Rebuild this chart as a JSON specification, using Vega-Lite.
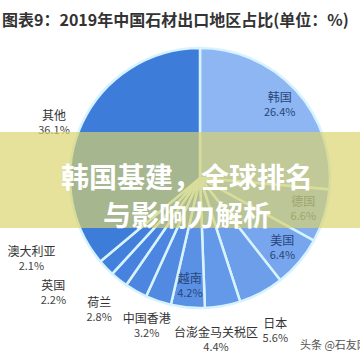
{
  "$schema": "https://vega.github.io/schema/vega-lite/v6.json",
  "width": 320,
  "height": 288,
  "autosize": {"type": "none"},
  "padding": {"left": 40, "top": 34, "right": 0, "bottom": 38},
  "background": "white",
  "config": {"view": {"stroke": null}, "font": "Noto Sans CJK SC"},
  "title": {"text": "图表9：2019年中国石材出口地区占比(单位：%)", "anchor": "start", "frame": "group", "fontSize": 16, "fontWeight": "bold", "color": "#333333", "dx": -38, "offset": -2, "font": "Noto Sans CJK SC"},
  "layer": [
    {
      "data": {"values": [
        {"region": "韩国", "share": 0.264, "n": 1},
        {"region": "德国", "share": 0.066, "n": 2},
        {"region": "美国", "share": 0.064, "n": 3},
        {"region": "日本", "share": 0.056, "n": 4},
        {"region": "台澎金马关税区", "share": 0.044, "n": 5},
        {"region": "越南", "share": 0.042, "n": 6},
        {"region": "中国香港", "share": 0.032, "n": 7},
        {"region": "荷兰", "share": 0.028, "n": 8},
        {"region": "英国", "share": 0.022, "n": 9},
        {"region": "澳大利亚", "share": 0.021, "n": 10},
        {"region": "其他", "share": 0.361, "n": 11}
      ]},
      "encoding": {
        "theta": {"field": "share", "type": "quantitative", "stack": true},
        "order": {"field": "n", "type": "quantitative"}
      },
      "layer": [
        {
          "mark": {"type": "arc", "outerRadius": 130, "stroke": "#d6f3ff", "strokeWidth": 2.5},
          "encoding": {
            "color": {"field": "region", "type": "nominal", "legend": null,
              "scale": {"domain": ["韩国", "德国", "美国", "日本", "台澎金马关税区", "越南", "中国香港", "荷兰", "英国", "澳大利亚", "其他"],
                        "range": ["#8db6f2", "#82aef0", "#78a6ee", "#6c9eea", "#6498e8", "#5b91e5", "#528ae2", "#4c86e0", "#4783de", "#4380dc", "#3e7cda"]}}
          }
        },
        {
          "mark": {"type": "text", "radius": 108, "dy": -7, "fontSize": 12, "color": "#27457a"},
          "encoding": {"text": {"condition": {"test": "indexof(['韩国','德国','美国','越南'], datum.region) >= 0", "field": "region", "type": "nominal"}, "value": ""}}
        },
        {
          "mark": {"type": "text", "radius": 108, "dy": 8, "fontSize": 11, "color": "#27457a"},
          "encoding": {"text": {"condition": {"test": "indexof(['韩国','德国','美国','越南'], datum.region) >= 0", "field": "share", "type": "quantitative", "format": ".1%"}, "value": ""}}
        },
        {
          "mark": {"type": "text", "radius": 160, "dy": 5, "fontSize": 12, "color": "#333333"},
          "encoding": {"text": {"condition": {"test": "datum.region === '日本'", "field": "region", "type": "nominal"}, "value": ""}}
        },
        {
          "mark": {"type": "text", "radius": 160, "dy": 20, "fontSize": 11, "color": "#444444"},
          "encoding": {"text": {"condition": {"test": "datum.region === '日本'", "field": "share", "type": "quantitative", "format": ".1%"}, "value": ""}}
        },
        {
          "mark": {"type": "text", "radius": 160, "dx": -12, "dy": -3, "fontSize": 12, "color": "#333333"},
          "encoding": {"text": {"condition": {"test": "datum.region === '台澎金马关税区'", "field": "region", "type": "nominal"}, "value": ""}}
        },
        {
          "mark": {"type": "text", "radius": 160, "dx": -12, "dy": 12, "fontSize": 11, "color": "#444444"},
          "encoding": {"text": {"condition": {"test": "datum.region === '台澎金马关税区'", "field": "share", "type": "quantitative", "format": ".1%"}, "value": ""}}
        },
        {
          "mark": {"type": "text", "radius": 160, "dx": -2, "dy": -11, "fontSize": 12, "color": "#333333"},
          "encoding": {"text": {"condition": {"test": "datum.region === '中国香港'", "field": "region", "type": "nominal"}, "value": ""}}
        },
        {
          "mark": {"type": "text", "radius": 160, "dx": -2, "dy": 4, "fontSize": 11, "color": "#444444"},
          "encoding": {"text": {"condition": {"test": "datum.region === '中国香港'", "field": "share", "type": "quantitative", "format": ".1%"}, "value": ""}}
        },
        {
          "mark": {"type": "text", "radius": 160, "dx": -22, "dy": -14, "fontSize": 12, "color": "#333333"},
          "encoding": {"text": {"condition": {"test": "datum.region === '荷兰'", "field": "region", "type": "nominal"}, "value": ""}}
        },
        {
          "mark": {"type": "text", "radius": 160, "dx": -22, "dy": 1, "fontSize": 11, "color": "#444444"},
          "encoding": {"text": {"condition": {"test": "datum.region === '荷兰'", "field": "share", "type": "quantitative", "format": ".1%"}, "value": ""}}
        },
        {
          "mark": {"type": "text", "radius": 160, "dx": -47, "dy": -17, "fontSize": 12, "color": "#333333"},
          "encoding": {"text": {"condition": {"test": "datum.region === '英国'", "field": "region", "type": "nominal"}, "value": ""}}
        },
        {
          "mark": {"type": "text", "radius": 160, "dx": -47, "dy": -2, "fontSize": 11, "color": "#444444"},
          "encoding": {"text": {"condition": {"test": "datum.region === '英国'", "field": "share", "type": "quantitative", "format": ".1%"}, "value": ""}}
        },
        {
          "mark": {"type": "text", "radius": 160, "dx": -53, "dy": -37, "fontSize": 12, "color": "#333333"},
          "encoding": {"text": {"condition": {"test": "datum.region === '澳大利亚'", "field": "region", "type": "nominal"}, "value": ""}}
        },
        {
          "mark": {"type": "text", "radius": 160, "dx": -53, "dy": -22, "fontSize": 11, "color": "#444444"},
          "encoding": {"text": {"condition": {"test": "datum.region === '澳大利亚'", "field": "share", "type": "quantitative", "format": ".1%"}, "value": ""}}
        },
        {
          "mark": {"type": "text", "radius": 160, "dx": -1, "dy": 6, "fontSize": 12, "color": "#333333"},
          "encoding": {"text": {"condition": {"test": "datum.region === '其他'", "field": "region", "type": "nominal"}, "value": ""}}
        },
        {
          "mark": {"type": "text", "radius": 160, "dx": -1, "dy": 21, "fontSize": 11, "color": "#444444"},
          "encoding": {"text": {"condition": {"test": "datum.region === '其他'", "field": "share", "type": "quantitative", "format": ".1%"}, "value": ""}}
        }
      ]
    },
    {
      "data": {"values": [{"headline": "韩国基建，全球排名\n与影响力解析"}]},
      "layer": [
        {"mark": {"type": "rect", "color": "#d9d36a", "opacity": 0.67, "width": 360, "height": 96, "xOffset": -180, "yOffset": 146}, "encoding": {}},
        {"mark": {"type": "text", "lineBreak": "\n", "lineHeight": 38, "fontSize": 28, "fontWeight": "bold", "color": "white", "dx": -13, "dy": 2, "font": "Noto Sans CJK SC"},
         "encoding": {"text": {"field": "headline", "type": "nominal"}}}
      ]
    },
    {
      "data": {"values": [{"credit": "头条 @石友网"}]},
      "mark": {"type": "text", "align": "left", "fontSize": 11, "color": "#555555", "dx": 100, "dy": 168},
      "encoding": {"text": {"field": "credit", "type": "nominal"}}
    }
  ]
}
